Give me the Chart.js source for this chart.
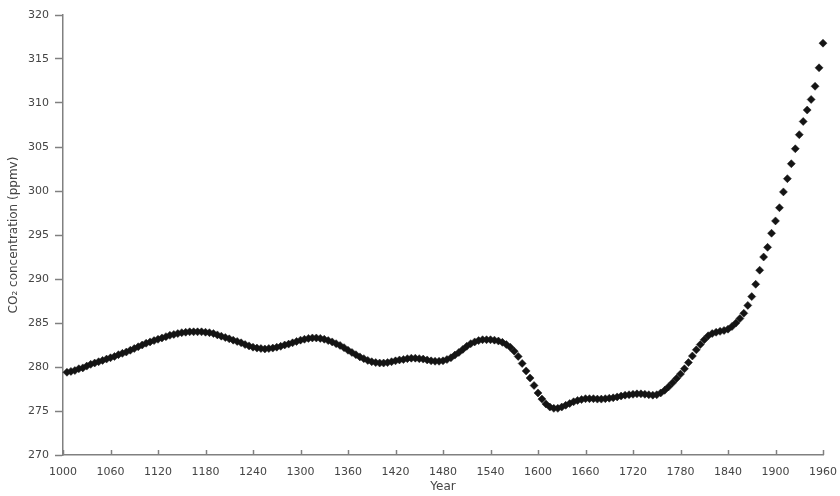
<!DOCTYPE html>
<html>
<head>
<meta charset="utf-8">
<script src="https://cdn.jsdelivr.net/npm/chart.js@4/dist/chart.umd.min.js"></script>
<style>
  html, body { margin: 0; padding: 0; background: #fff; }
  #wrap { width: 840px; height: 496px; }
</style>
</head>
<body>
<div id="wrap"><canvas id="chart" width="840" height="496"></canvas></div>
<script>
// Reconstructed CO2 concentration, one sample every 5 years
const years = [
  1005, 1010, 1015, 1020, 1025, 1030, 1035, 1040, 1045, 1050, 1055, 1060,
  1065, 1070, 1075, 1080, 1085, 1090, 1095, 1100, 1105, 1110, 1115, 1120,
  1125, 1130, 1135, 1140, 1145, 1150, 1155, 1160, 1165, 1170, 1175, 1180,
  1185, 1190, 1195, 1200, 1205, 1210, 1215, 1220, 1225, 1230, 1235, 1240,
  1245, 1250, 1255, 1260, 1265, 1270, 1275, 1280, 1285, 1290, 1295, 1300,
  1305, 1310, 1315, 1320, 1325, 1330, 1335, 1340, 1345, 1350, 1355, 1360,
  1365, 1370, 1375, 1380, 1385, 1390, 1395, 1400, 1405, 1410, 1415, 1420,
  1425, 1430, 1435, 1440, 1445, 1450, 1455, 1460, 1465, 1470, 1475, 1480,
  1485, 1490, 1495, 1500, 1505, 1510, 1515, 1520, 1525, 1530, 1535, 1540,
  1545, 1550, 1555, 1560, 1565, 1570, 1575, 1580, 1585, 1590, 1595, 1600,
  1605, 1610, 1615, 1620, 1625, 1630, 1635, 1640, 1645, 1650, 1655, 1660,
  1665, 1670, 1675, 1680, 1685, 1690, 1695, 1700, 1705, 1710, 1715, 1720,
  1725, 1730, 1735, 1740, 1745, 1750, 1755, 1760, 1765, 1770, 1775, 1780,
  1785, 1790, 1795, 1800, 1805, 1810, 1815, 1820, 1825, 1830, 1835, 1840,
  1845, 1850, 1855, 1860, 1865, 1870, 1875, 1880, 1885, 1890, 1895, 1900,
  1905, 1910, 1915, 1920, 1925, 1930, 1935, 1940, 1945, 1950, 1955, 1960
];

const co2 = [
  279.4, 279.5, 279.6, 279.8, 279.9, 280.1, 280.3, 280.45, 280.6, 280.75, 280.9, 281.05,
  281.2, 281.4, 281.55, 281.7, 281.9, 282.1, 282.3, 282.5, 282.7, 282.85, 283.0, 283.15,
  283.3, 283.45, 283.6, 283.7, 283.8, 283.9, 283.95, 284.0, 284.0, 284.0, 284.0, 283.95,
  283.9, 283.8, 283.65, 283.5, 283.35, 283.2, 283.05, 282.9, 282.75, 282.55, 282.4, 282.25,
  282.15, 282.1, 282.05, 282.1, 282.15, 282.25, 282.35, 282.5, 282.6, 282.75, 282.9, 283.05,
  283.15, 283.25, 283.3, 283.3, 283.25, 283.15, 283.0, 282.85, 282.65, 282.45, 282.2, 281.9,
  281.65, 281.4, 281.15, 280.95, 280.75, 280.6, 280.5, 280.45, 280.45, 280.5, 280.6, 280.7,
  280.8, 280.85, 280.95, 281.0, 281.0, 280.95, 280.9, 280.8, 280.7, 280.65, 280.65, 280.7,
  280.85, 281.05, 281.35, 281.65, 282.0, 282.35, 282.65, 282.85, 283.0, 283.1, 283.1, 283.1,
  283.05, 282.95, 282.8, 282.55, 282.25, 281.8, 281.2, 280.4, 279.55, 278.75, 277.9, 277.05,
  276.35, 275.8, 275.45, 275.3, 275.3, 275.45, 275.65, 275.85, 276.05, 276.2, 276.3, 276.4,
  276.4, 276.4, 276.35, 276.35, 276.4, 276.45, 276.5, 276.6, 276.7, 276.8, 276.85, 276.9,
  276.95, 276.95, 276.9, 276.85, 276.8, 276.85, 277.05, 277.35, 277.75, 278.2, 278.7, 279.2,
  279.8, 280.5, 281.25, 281.95, 282.55, 283.1, 283.55, 283.8, 283.95, 284.05, 284.15, 284.3,
  284.6, 285.0, 285.5, 286.1, 287.0, 288.0, 289.4, 291.0, 292.5, 293.6, 295.2, 296.6,
  298.1, 299.9, 301.4, 303.1, 304.8, 306.4, 307.9, 309.2, 310.4, 311.9, 314.0, 316.8
];

// Axis ranges and tick spacing
const xRange = [1000, 1960];
const xStep = 60;
const yRange = [270, 320];
const yStep = 5;

const axisGray = '#808080';
const labelGray = '#454545';
const markColor = '#141414';

// Small inward tick marks along the bottom axis
const innerXTicks = {
  id: 'innerXTicks',
  afterDraw(chart) {
    const xs = chart.scales.x;
    const bottom = chart.chartArea.bottom;
    const ctx = chart.ctx;
    ctx.save();
    ctx.strokeStyle = axisGray;
    ctx.lineWidth = 1.5;
    xs.ticks.forEach(t => {
      const px = Math.round(xs.getPixelForValue(t.value)) + 0.5;
      ctx.beginPath();
      ctx.moveTo(px, bottom);
      ctx.lineTo(px, bottom - 5);
      ctx.stroke();
    });
    ctx.restore();
  }
};

const points = years.map((yr, i) => ({ x: yr, y: co2[i] }));

new Chart(document.getElementById('chart'), {
  type: 'scatter',
  data: {
    datasets: [{
      data: points,
      pointStyle: 'rectRot',
      pointRadius: 4,
      pointBorderWidth: 0.5,
      backgroundColor: markColor,
      borderColor: markColor,
      clip: false
    }]
  },
  options: {
    responsive: false,
    animation: false,
    devicePixelRatio: 1,
    layout: { padding: { top: 15, right: 17, left: 0, bottom: 0 } },
    plugins: {
      legend: { display: false },
      tooltip: { enabled: false }
    },
    scales: {
      x: {
        type: 'linear',
        min: xRange[0],
        max: xRange[1],
        afterFit(scale) {
          scale.height = 41;
          scale.paddingLeft = 0;
          scale.paddingRight = 0;
        },
        ticks: {
          stepSize: xStep,
          padding: 11,
          color: labelGray,
          font: { family: 'DejaVu Sans', size: 11 },
          maxRotation: 0,
          callback: v => String(v)
        },
        grid: { display: true, drawOnChartArea: false, drawTicks: false, color: axisGray },
        border: { display: true, color: axisGray, width: 1.5 },
        title: {
          display: true,
          text: 'Year',
          color: labelGray,
          font: { family: 'DejaVu Sans', size: 12 },
          padding: { top: 0, bottom: 2 }
        }
      },
      y: {
        type: 'linear',
        min: yRange[0],
        max: yRange[1],
        afterFit(scale) { scale.width = 63; },
        ticks: {
          stepSize: yStep,
          padding: 6,
          color: labelGray,
          font: { family: 'DejaVu Sans', size: 11 },
          callback: v => String(v)
        },
        grid: { display: true, drawOnChartArea: false, drawTicks: true, tickLength: 8, color: axisGray, tickWidth: 1.5 },
        border: { display: true, color: axisGray, width: 1.5 },
        title: {
          display: true,
          text: 'CO₂ concentration (ppmv)',
          color: labelGray,
          font: { family: 'DejaVu Sans', size: 12 },
          padding: { top: 7, bottom: 0 }
        }
      }
    }
  },
  plugins: [innerXTicks]
});
</script>
</body>
</html>
